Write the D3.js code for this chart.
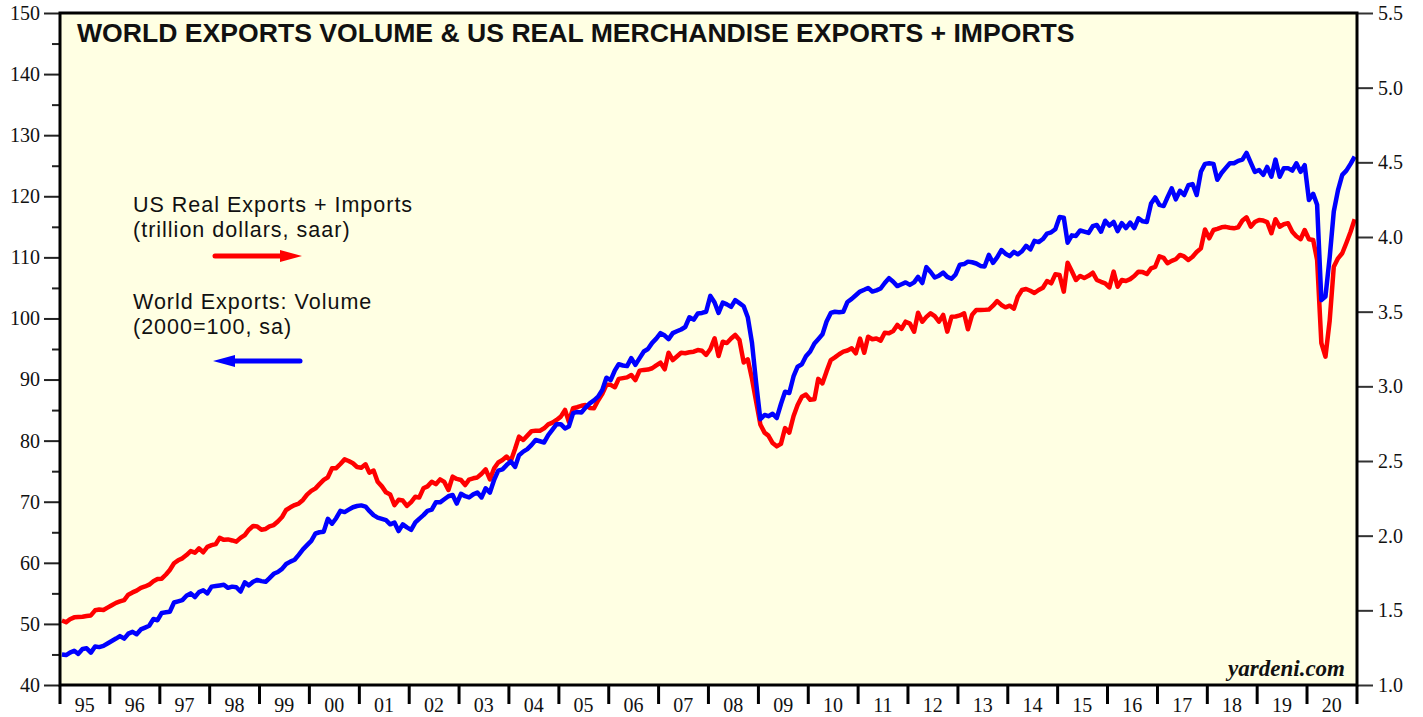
<!DOCTYPE html>
<html>
<head>
<meta charset="utf-8">
<script src="https://cdn.jsdelivr.net/npm/d3@7"></script>
<style>
  body { margin: 0; background: #fff; }
  text { fill: #111; }
</style>
</head>
<body>
<div id="chart"></div>
<script>
// Monthly values, Jan 1995 - Dec 2020 (one row per year)

// World Exports: Volume (2000=100, sa) -> left axis
const worldExports = [
  45.0, 44.9, 45.3, 45.6, 45.1, 45.9, 46.0, 45.3, 46.3, 46.2, 46.4, 46.8, // 95
  47.2, 47.6, 48.0, 47.6, 48.4, 48.7, 48.3, 49.1, 49.4, 49.7, 50.8, 50.6, // 96
  51.8, 51.9, 52.0, 53.5, 53.7, 53.9, 54.6, 55.0, 54.4, 55.2, 55.5, 55.0, // 97
  56.1, 56.2, 56.3, 56.4, 55.9, 56.1, 56.0, 55.3, 56.8, 56.3, 56.9, 57.2, // 98
  57.0, 56.9, 57.5, 58.2, 58.5, 59.0, 59.8, 60.2, 60.5, 61.3, 62.2, 62.9, // 99
  63.6, 64.8, 65.0, 65.1, 67.2, 66.4, 67.3, 68.5, 68.3, 68.7, 69.1, 69.3, // 00
  69.4, 69.2, 68.5, 67.8, 67.4, 67.2, 67.0, 66.3, 66.6, 65.2, 66.3, 65.8, // 01
  65.4, 66.6, 67.2, 67.8, 68.5, 68.7, 69.9, 69.9, 70.4, 70.9, 71.1, 69.7, // 02
  71.3, 70.9, 70.7, 71.2, 71.5, 70.7, 72.2, 71.5, 73.6, 75.1, 75.3, 76.0, // 03
  76.6, 75.7, 77.6, 78.2, 78.6, 79.3, 80.1, 79.9, 79.7, 80.9, 81.8, 82.7, // 04
  82.7, 82.0, 82.3, 84.5, 84.7, 84.6, 85.4, 86.1, 86.6, 87.2, 88.3, 90.3, // 05
  89.9, 91.5, 92.5, 92.3, 92.2, 93.5, 92.4, 93.5, 94.6, 95.0, 96.0, 96.7, // 06
  97.6, 97.2, 96.6, 97.6, 97.9, 98.2, 98.6, 100.2, 99.8, 100.8, 100.9, 101.1, // 07
  103.7, 102.6, 100.9, 102.6, 102.3, 101.9, 103.0, 102.5, 102.0, 100.2, 96.0, 89.5, // 08
  83.5, 84.2, 84.0, 84.4, 83.7, 86.0, 88.0, 87.8, 90.5, 92.1, 92.5, 93.8, // 09
  94.6, 95.9, 96.6, 97.4, 99.5, 100.9, 101.1, 101.0, 101.1, 102.7, 103.2, 103.8, // 10
  104.4, 104.7, 105.0, 104.4, 104.6, 104.9, 105.8, 106.6, 106.0, 105.3, 105.6, 105.9, // 11
  105.5, 105.9, 106.8, 105.8, 108.4, 107.6, 106.7, 107.0, 107.5, 106.8, 106.5, 107.2, // 12
  108.8, 108.9, 109.3, 109.2, 109.0, 108.6, 108.5, 110.4, 109.1, 110.0, 111.2, 110.6, // 13
  110.2, 110.9, 110.5, 111.0, 111.9, 111.3, 112.7, 112.5, 113.0, 113.9, 114.1, 114.6, // 14
  116.6, 116.5, 112.4, 113.6, 113.5, 114.4, 114.2, 114.0, 115.1, 115.3, 114.2, 116.0, // 15
  115.2, 115.8, 114.3, 115.6, 114.8, 115.7, 114.8, 116.4, 115.9, 115.8, 118.8, 119.8, // 16
  118.6, 118.4, 119.8, 121.3, 119.5, 120.9, 120.2, 121.8, 122.0, 120.2, 124.0, 125.3, // 17
  125.4, 125.3, 122.7, 123.8, 124.6, 125.4, 125.4, 125.8, 126.0, 127.1, 125.5, 124.0, // 18
  124.3, 123.5, 124.8, 123.2, 126.0, 123.2, 124.6, 124.6, 124.2, 125.4, 124.0, 125.1, // 19
  119.4, 120.4, 118.6, 103.0, 103.6, 110.0, 117.5, 121.0, 123.5, 124.2, 125.3, 126.5  // 20
]

// US Real Exports + Imports (trillion dollars, saar) -> right axis
const usExportsImports = [
  1.432, 1.420, 1.440, 1.453, 1.455, 1.457, 1.462, 1.466, 1.500, 1.505, 1.502, 1.518, // 95
  1.534, 1.550, 1.560, 1.569, 1.605, 1.620, 1.632, 1.650, 1.660, 1.672, 1.695, 1.710, // 96
  1.712, 1.740, 1.770, 1.815, 1.835, 1.848, 1.870, 1.897, 1.886, 1.915, 1.889, 1.925, // 97
  1.937, 1.944, 1.985, 1.972, 1.975, 1.968, 1.960, 1.985, 2.004, 2.040, 2.065, 2.062, // 98
  2.040, 2.045, 2.062, 2.071, 2.095, 2.125, 2.172, 2.190, 2.205, 2.215, 2.239, 2.275, // 99
  2.300, 2.317, 2.345, 2.373, 2.391, 2.451, 2.452, 2.480, 2.511, 2.500, 2.485, 2.460, // 00
  2.455, 2.478, 2.422, 2.436, 2.361, 2.330, 2.290, 2.275, 2.205, 2.240, 2.235, 2.199, // 01
  2.225, 2.261, 2.255, 2.317, 2.330, 2.361, 2.345, 2.377, 2.360, 2.306, 2.395, 2.380, // 02
  2.373, 2.339, 2.375, 2.384, 2.390, 2.415, 2.444, 2.377, 2.451, 2.490, 2.507, 2.530, // 03
  2.500, 2.580, 2.663, 2.641, 2.670, 2.700, 2.703, 2.703, 2.719, 2.745, 2.757, 2.775, // 04
  2.797, 2.842, 2.763, 2.853, 2.860, 2.870, 2.875, 2.855, 2.853, 2.905, 2.950, 3.010, // 05
  3.010, 2.994, 3.050, 3.055, 3.060, 3.076, 3.042, 3.105, 3.110, 3.112, 3.121, 3.140, // 06
  3.158, 3.114, 3.225, 3.176, 3.200, 3.225, 3.222, 3.228, 3.232, 3.243, 3.238, 3.210, // 07
  3.250, 3.322, 3.203, 3.299, 3.290, 3.320, 3.344, 3.310, 3.160, 3.181, 3.050, 2.900, // 08
  2.745, 2.690, 2.670, 2.620, 2.598, 2.615, 2.720, 2.690, 2.800, 2.875, 2.930, 2.945, // 09
  2.910, 2.913, 3.050, 3.020, 3.100, 3.176, 3.194, 3.215, 3.232, 3.240, 3.255, 3.221, // 10
  3.320, 3.225, 3.332, 3.315, 3.320, 3.306, 3.359, 3.355, 3.370, 3.411, 3.385, 3.433, // 11
  3.420, 3.366, 3.493, 3.433, 3.465, 3.489, 3.470, 3.433, 3.478, 3.366, 3.466, 3.468, // 12
  3.475, 3.489, 3.382, 3.480, 3.511, 3.511, 3.512, 3.514, 3.540, 3.571, 3.545, 3.529, // 13
  3.540, 3.520, 3.600, 3.645, 3.652, 3.640, 3.625, 3.645, 3.660, 3.705, 3.690, 3.750, // 14
  3.745, 3.634, 3.828, 3.770, 3.712, 3.739, 3.725, 3.740, 3.761, 3.712, 3.700, 3.690, // 15
  3.663, 3.768, 3.667, 3.712, 3.705, 3.718, 3.739, 3.768, 3.765, 3.752, 3.790, 3.800, // 16
  3.870, 3.860, 3.824, 3.840, 3.851, 3.880, 3.870, 3.846, 3.868, 3.900, 3.924, 4.050, // 17
  3.991, 4.047, 4.055, 4.065, 4.068, 4.062, 4.058, 4.065, 4.110, 4.132, 4.069, 4.100, // 18
  4.114, 4.110, 4.100, 4.025, 4.119, 4.069, 4.085, 4.092, 4.035, 4.005, 3.985, 4.047, // 19
  3.985, 3.980, 3.846, 3.290, 3.199, 3.440, 3.800, 3.857, 3.891, 3.960, 4.035, 4.119  // 20
]

const yearLabels = ['95', '96', '97', '98', '99', '00', '01', '02', '03', '04', '05', '06', '07',
  '08', '09', '10', '11', '12', '13', '14', '15', '16', '17', '18', '19', '20']
const leftTicks = [40, 50, 60, 70, 80, 90, 100, 110, 120, 130, 140, 150]
const leftMinorTicks = [45, 55, 65, 75, 85, 95, 105, 115, 125, 135, 145]
const rightTicks = [1.0, 1.5, 2.0, 2.5, 3.0, 3.5, 4.0, 4.5, 5.0, 5.5]

const title = 'WORLD EXPORTS VOLUME & US REAL MERCHANDISE EXPORTS + IMPORTS'

// Setting up the svg, plot box and scales
const totalWidth = 1423
const totalHeight = 717
const plot = { left: 60, right: 1357, top: 13, bottom: 685 }

const svg = d3.select('#chart').append('svg')
  .attr('width', totalWidth)
  .attr('height', totalHeight)

const x = d3.scaleTime()
  .domain([new Date(1995, 0, 1), new Date(2021, 0, 1)])
  .range([plot.left, plot.right])
const yLeft = d3.scaleLinear().domain([40, 150]).range([plot.bottom, plot.top])
const yRight = d3.scaleLinear().domain([1.0, 5.5]).range([plot.bottom, plot.top])

const months = worldExports.map((d, i) => new Date(1995, i, 15))

svg.append('rect')
  .attr('x', plot.left)
  .attr('y', plot.top)
  .attr('width', plot.right - plot.left)
  .attr('height', plot.bottom - plot.top)
  .attr('fill', '#ffffe3')

const serif = '"Liberation Serif", "Times New Roman", serif'
const sans = '"Liberation Sans", Arial, sans-serif'

// Left axis (major + minor ticks)
const leftAxis = svg.append('g')
  .attr('transform', `translate(${plot.left}, 0)`)
  .call(d3.axisLeft(yLeft).tickValues(leftTicks).tickSize(16).tickPadding(4).tickFormat(d3.format('d')))
svg.append('g')
  .attr('transform', `translate(${plot.left}, 0)`)
  .call(d3.axisLeft(yLeft).tickValues(leftMinorTicks).tickSize(8).tickFormat(''))
  .call(g => g.select('.domain').remove())
  .selectAll('line').attr('stroke', '#222').attr('stroke-width', 2)

leftAxis.select('.domain').remove()
leftAxis.selectAll('line').attr('stroke', '#222').attr('stroke-width', 2)
leftAxis.selectAll('text')
  .style('font-family', serif)
  .style('font-size', '20px')
  .attr('fill', '#111')

// Right axis
const rightAxis = svg.append('g')
  .attr('transform', `translate(${plot.right}, 0)`)
  .call(d3.axisRight(yRight).tickValues(rightTicks).tickSize(16).tickPadding(5).tickFormat(d3.format('.1f')))
rightAxis.select('.domain').remove()
rightAxis.selectAll('line').attr('stroke', '#333').attr('stroke-width', 2)
rightAxis.selectAll('text')
  .style('font-family', serif)
  .style('font-size', '20px')
  .attr('fill', '#111')

// Bottom axis: year boundaries and labels in the middle of each year
const yearStarts = d3.timeYear.range(new Date(1995, 0, 1), new Date(2021, 0, 2))
svg.append('g')
  .selectAll('line')
  .data(yearStarts)
  .enter()
  .append('line')
  .attr('x1', d => x(d))
  .attr('x2', d => x(d))
  .attr('y1', plot.bottom)
  .attr('y2', plot.bottom + 19)
  .attr('stroke', '#000')
  .attr('stroke-width', 3)

svg.append('g')
  .selectAll('text')
  .data(yearLabels)
  .enter()
  .append('text')
  .attr('x', (d, i) => x(new Date(1995 + i, 6, 1)))
  .attr('y', 712)
  .attr('text-anchor', 'middle')
  .style('font-family', serif)
  .style('font-size', '20px')
  .text(d => d)

// Series lines
const lineLeft = d3.line()
  .x((d, i) => x(months[i]))
  .y(d => yLeft(d))
const lineRight = d3.line()
  .x((d, i) => x(months[i]))
  .y(d => yRight(d))

svg.append('path')
  .datum(usExportsImports)
  .attr('fill', 'none')
  .attr('stroke', '#ff0000')
  .attr('stroke-width', 4.5)
  .attr('stroke-linejoin', 'round')
  .attr('d', lineRight)

svg.append('path')
  .datum(worldExports)
  .attr('fill', 'none')
  .attr('stroke', '#0000ff')
  .attr('stroke-width', 4.5)
  .attr('stroke-linejoin', 'round')
  .attr('d', lineLeft)

// Frame: thick left + bottom axis lines, top and right border
svg.append('rect')
  .attr('x', plot.left)
  .attr('y', plot.top)
  .attr('width', plot.right - plot.left)
  .attr('height', plot.bottom - plot.top)
  .attr('fill', 'none')
  .attr('stroke', '#000')
  .attr('stroke-width', 3)

// Title
svg.append('text')
  .attr('x', 77)
  .attr('y', 42)
  .style('font-family', sans)
  .style('font-weight', 'bold')
  .style('font-size', '26.6px')
  .text(title)

// Legend
const legend = [
  { lines: ['US Real Exports + Imports', '(trillion dollars, saar)'], y: 212, color: '#ff0000', dir: 1, arrowY: 256 },
  { lines: ['World Exports: Volume', '(2000=100, sa)'], y: 309, color: '#0000ff', dir: -1, arrowY: 361 }
]

legend.forEach(item => {
  item.lines.forEach((l, i) => {
    svg.append('text')
      .attr('x', 133)
      .attr('y', item.y + i * 25)
      .style('font-family', sans)
      .style('font-size', '21.5px')
      .style('letter-spacing', '1px')
      .text(l)
  })

  const x0 = 215, x1 = 300, head = 20
  const tip = item.dir > 0 ? x1 + 2 : x0 - 2
  const base = item.dir > 0 ? x1 - head : x0 + head
  svg.append('line')
    .attr('x1', item.dir > 0 ? x0 : base)
    .attr('x2', item.dir > 0 ? base : x1)
    .attr('y1', item.arrowY)
    .attr('y2', item.arrowY)
    .attr('stroke', item.color)
    .attr('stroke-width', 5)
    .attr('stroke-linecap', 'round')
  svg.append('path')
    .attr('d', `M${tip},${item.arrowY} L${base},${item.arrowY - 6} L${base},${item.arrowY + 6} Z`)
    .attr('fill', item.color)
})

// Source
svg.append('text')
  .attr('x', 1345)
  .attr('y', 676)
  .attr('text-anchor', 'end')
  .style('font-family', serif)
  .style('font-weight', 'bold')
  .style('font-style', 'italic')
  .style('font-size', '23px')
  .text('yardeni.com')
</script>
</body>
</html>
